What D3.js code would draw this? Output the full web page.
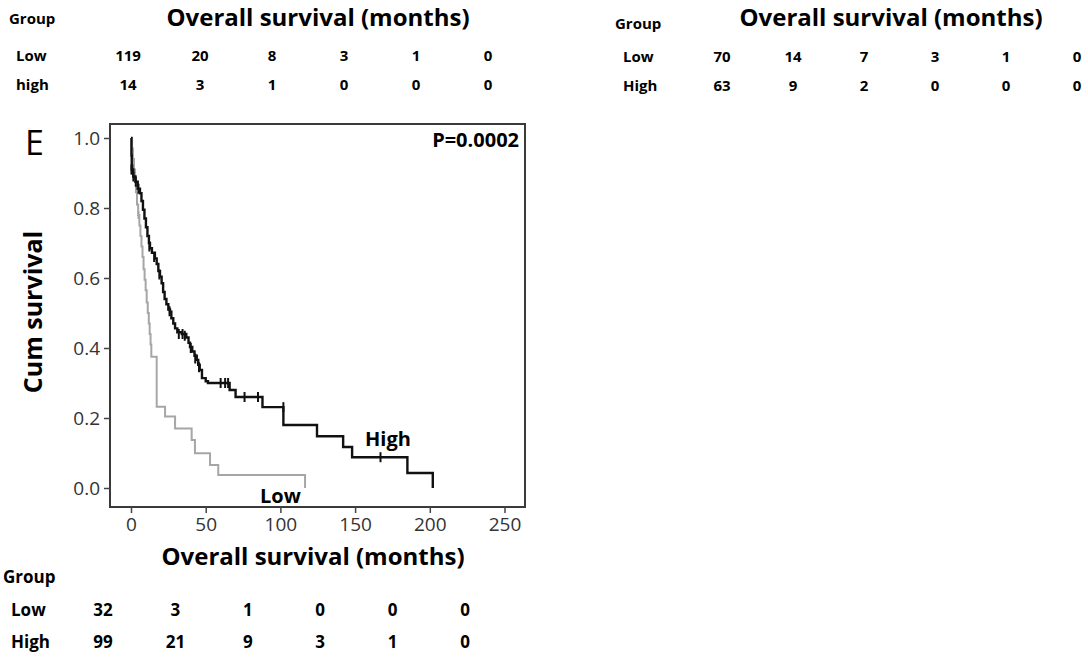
<!DOCTYPE html>
<html>
<head>
<meta charset="utf-8">
<script src="https://cdn.jsdelivr.net/npm/d3@7"></script>
<style>
  html, body { margin: 0; padding: 0; background: #fff; }
  svg { display: block; font-family: "Open Sans", Lato, sans-serif; }
</style>
</head>
<body>
<svg id="chart" width="1088" height="658"></svg>
<script>
// ---------- data ----------
const timeTicks = [0, 50, 100, 150, 200, 250];
const survTicks = [0.0, 0.2, 0.4, 0.6, 0.8, 1.0];

// Kaplan-Meier step points [months, survival after step]
const highSteps = [[0,1.0],[0.3,0.95],[0.5,0.91],[1.5,0.89],[3,0.875],[4.5,0.855],[6,0.842],[7,0.82],[8,0.795],[9,0.77],[10,0.745],[11,0.72],[12,0.70],[12.7,0.685],[14,0.672],[16,0.656],[17.2,0.64],[18.3,0.62],[19.4,0.604],[20.5,0.585],[21.5,0.56],[22.5,0.54],[23.7,0.525],[25,0.51],[26.1,0.504],[27,0.485],[28.3,0.47],[29.5,0.456],[31,0.445],[34,0.44],[37,0.43],[38.5,0.415],[39.5,0.403],[41,0.39],[42.5,0.378],[44,0.366],[45,0.352],[46,0.337],[47.5,0.314],[50,0.305],[51.5,0.30],[66,0.28],[70,0.26],[88,0.231],[102,0.18],[124.5,0.148],[142,0.117],[148,0.088],[185,0.043],[202,0.0]];
const highCensor = [[0.3,0.91],[0.9,0.91],[1.6,0.89],[3.2,0.875],[5,0.855],[12.3,0.69],[15.5,0.66],[19,0.61],[25.8,0.505],[32,0.44],[34.5,0.44],[36,0.435],[40,0.4],[43,0.37],[45.5,0.345],[60,0.30],[63,0.30],[65,0.30],[76,0.26],[85,0.26],[102,0.231],[167,0.088]];

const lowSteps = [[0,1.0],[0.7,0.97],[1.3,0.94],[2,0.91],[2.7,0.875],[3.3,0.845],[4,0.81],[4.8,0.78],[5.6,0.75],[6.3,0.72],[7,0.69],[7.7,0.66],[8.4,0.625],[9.1,0.595],[9.8,0.565],[10.5,0.53],[11.2,0.5],[11.9,0.47],[12.5,0.44],[13.1,0.41],[13.6,0.375],[17.2,0.232],[22.8,0.204],[29.5,0.17],[40.6,0.137],[42.8,0.099],[52.9,0.066],[58.4,0.037],[116.5,0.0]];
const lowCensor = [[5,0.78]];

// at-risk tables
const groupsTopLeft = ["Low", "high"];
const riskTopLeftLow = [119, 20, 8, 3, 1, 0];
const riskTopLeftHigh = [14, 3, 1, 0, 0, 0];
const groupsTopRight = ["Low", "High"];
const riskTopRightLow = [70, 14, 7, 3, 1, 0];
const riskTopRightHigh = [63, 9, 2, 0, 0, 0];
const groupsBottom = ["Low", "High"];
const riskBottomLow = [32, 3, 1, 0, 0, 0];
const riskBottomHigh = [99, 21, 9, 3, 1, 0];

const xTitle = "Overall survival (months)";
const yTitle = "Cum survival";
const pText = "P=0.0002";

// ---------- drawing ----------
const svg = d3.select("#chart");

const x = d3.scaleLinear().domain([0, 250]).range([131, 504.5]);
const y = d3.scaleLinear().domain([0, 1]).range([488, 138]);

const frame = {left: 110, right: 525, top: 124, bottom: 507};

svg.append("rect")
  .attr("x", frame.left).attr("y", frame.top)
  .attr("width", frame.right - frame.left).attr("height", frame.bottom - frame.top)
  .attr("fill", "none").attr("stroke", "#3a3a3a").attr("stroke-width", 2);

const yAxis = svg.append("g")
  .attr("transform", `translate(${frame.left},0)`)
  .call(d3.axisLeft(y).tickValues(survTicks).tickFormat(d3.format(".1f")).tickSize(6).tickPadding(4));
const xAxis = svg.append("g")
  .attr("transform", `translate(0,${frame.bottom})`)
  .call(d3.axisBottom(x).tickValues(timeTicks).tickSize(6).tickPadding(5));
[yAxis, xAxis].forEach(g => {
  g.select(".domain").remove();
  g.selectAll(".tick line").attr("stroke", "#444").attr("stroke-width", 1.5);
  g.selectAll(".tick text").attr("fill", "#333").style("font-size", "19px")
    .style("font-family", "'Open Sans', Lato, sans-serif");
});

const line = d3.line().x(d => x(d[0])).y(d => y(d[1])).curve(d3.curveStepAfter);

svg.append("path").datum(lowSteps).attr("d", line)
  .attr("fill", "none").attr("stroke", "#a6a6a6").attr("stroke-width", 2);
svg.append("g").selectAll("line").data(lowCensor).join("line")
  .attr("x1", d => x(d[0])).attr("x2", d => x(d[0]))
  .attr("y1", d => y(d[1]) - 4).attr("y2", d => y(d[1]) + 4)
  .attr("stroke", "#a6a6a6").attr("stroke-width", 2);

svg.append("path").datum(highSteps).attr("d", line)
  .attr("fill", "none").attr("stroke", "#111").attr("stroke-width", 2.4);
svg.append("g").selectAll("line").data(highCensor).join("line")
  .attr("x1", d => x(d[0])).attr("x2", d => x(d[0]))
  .attr("y1", d => y(d[1]) - 5).attr("y2", d => y(d[1]) + 5)
  .attr("stroke", "#111").attr("stroke-width", 2);

// labels inside plot
svg.append("text").attr("x", 519).attr("y", 147).attr("text-anchor", "end")
  .style("font-weight", "bold").style("font-size", "20px").text(pText);
svg.append("text").attr("x", x(172)).attr("y", 446).attr("text-anchor", "middle")
  .style("font-weight", "bold").style("font-size", "20px").text("High");
svg.append("text").attr("x", x(100)).attr("y", 503).attr("text-anchor", "middle")
  .style("font-weight", "bold").style("font-size", "20px").text("Low");

// panel letter
svg.append("text").attr("x", 25).attr("y", 155).style("font-size", "34px").text("E");

// axis titles
svg.append("text").attr("transform", "translate(42,312) rotate(-90)")
  .attr("text-anchor", "middle").style("font-weight", "bold").style("font-size", "25px").text(yTitle);
svg.append("text").attr("x", 313).attr("y", 565).attr("text-anchor", "middle")
  .style("font-weight", "bold").style("font-size", "24px").text(xTitle);

// at-risk tables
function riskTable(cfg) {
  const col = d3.scaleLinear().domain([0, 250]).range(cfg.range);
  const g = svg.append("g").style("font-weight", "bold").style("font-size", cfg.size + "px");
  g.append("text").attr("x", cfg.groupX).attr("y", cfg.groupY).text("Group");
  if (cfg.title) {
    svg.append("text").attr("x", cfg.titleX).attr("y", cfg.titleY).attr("text-anchor", "middle")
      .style("font-weight", "bold").style("font-size", "24px").text(xTitle);
  }
  cfg.rows.forEach((r, i) => {
    g.append("text").attr("x", cfg.labelX).attr("y", cfg.rowY[i]).text(r.name);
    g.selectAll(null).data(r.values).join("text")
      .attr("x", (d, j) => col(timeTicks[j])).attr("y", cfg.rowY[i])
      .attr("text-anchor", "middle").text(d => d);
  });
}

riskTable({range: [128, 488], groupX: 9, groupY: 24, labelX: 16, rowY: [61, 90], size: 15,
  title: true, titleX: 318, titleY: 26,
  rows: [{name: groupsTopLeft[0], values: riskTopLeftLow}, {name: groupsTopLeft[1], values: riskTopLeftHigh}]});
riskTable({range: [722, 1077], groupX: 615, groupY: 29, labelX: 623, rowY: [62, 91], size: 15,
  title: true, titleX: 891, titleY: 26,
  rows: [{name: groupsTopRight[0], values: riskTopRightLow}, {name: groupsTopRight[1], values: riskTopRightHigh}]});
riskTable({range: [103, 465], groupX: 3, groupY: 583, labelX: 11, rowY: [616, 648], size: 17,
  title: false,
  rows: [{name: groupsBottom[0], values: riskBottomLow}, {name: groupsBottom[1], values: riskBottomHigh}]});
</script>
</body>
</html>
